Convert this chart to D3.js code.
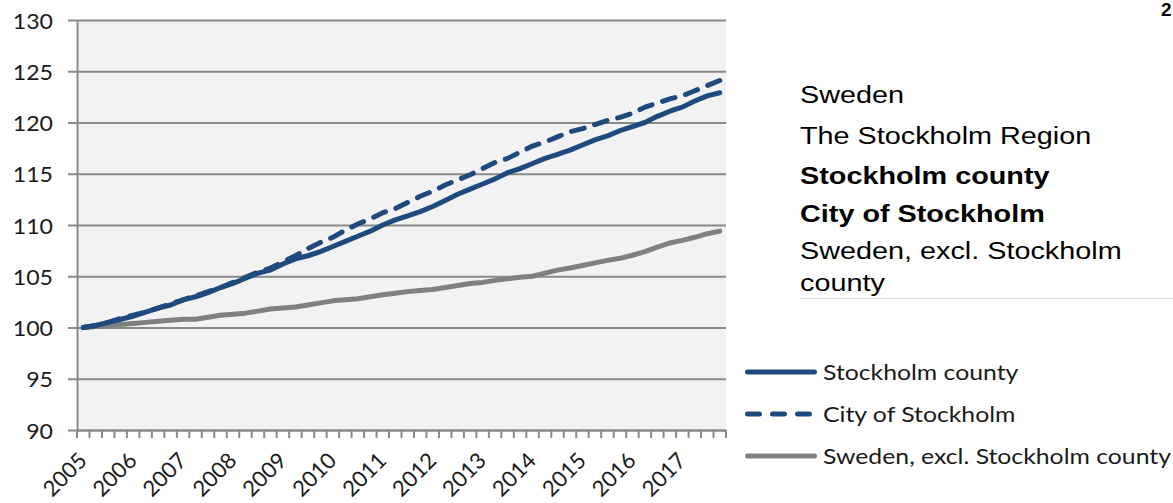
<!DOCTYPE html>
<html>
<head>
<meta charset="utf-8">
<script src="https://cdn.jsdelivr.net/npm/d3@7"></script>
<style>
  html, body { margin: 0; padding: 0; background: #ffffff; }
  svg { display: block; }
</style>
</head>
<body>
<svg id="chart" width="1173" height="503"></svg>
<script>
// Quarterly index, 2005 Q1 = 100
const years = [2005, 2006, 2007, 2008, 2009, 2010, 2011, 2012, 2013, 2014, 2015, 2016, 2017];
const quarters = years.flatMap(y => ["Q1", "Q2", "Q3", "Q4"].map(q => `${y}${q}`));

const stockholmCounty = [
  100.0, 100.2, 100.5, 100.8, 101.1, 101.5, 101.9, 102.2,
  102.7, 103.0, 103.4, 103.9, 104.3, 104.8, 105.3, 105.6,
  106.2, 106.7, 107.0, 107.4, 107.9, 108.4, 108.9, 109.4,
  110.0, 110.5, 110.9, 111.3, 111.8, 112.4, 113.0, 113.5,
  114.0, 114.5, 115.1, 115.5, 116.0, 116.5, 116.9, 117.3,
  117.8, 118.3, 118.7, 119.2, 119.6, 120.0, 120.6, 121.1,
  121.5, 122.1, 122.6, 122.9
];
const cityOfStockholm = [
  100.0, 100.2, 100.5, 100.9, 101.2, 101.5, 101.9, 102.3,
  102.7, 103.1, 103.5, 103.9, 104.4, 104.9, 105.4, 105.8,
  106.4, 107.0, 107.7, 108.3, 108.8, 109.5, 110.1, 110.6,
  111.2, 111.6, 112.2, 112.8, 113.3, 113.9, 114.4, 114.9,
  115.5, 116.1, 116.5, 117.1, 117.7, 118.1, 118.6, 119.1,
  119.4, 119.8, 120.2, 120.5, 120.9, 121.5, 121.9, 122.3,
  122.6, 123.1, 123.6, 124.1
];
const swedenExclCounty = [
  100.0, 100.1, 100.2, 100.3, 100.4, 100.5, 100.6, 100.7,
  100.8, 100.8, 101.0, 101.2, 101.3, 101.4, 101.6, 101.8,
  101.9, 102.0, 102.2, 102.4, 102.6, 102.7, 102.8, 103.0,
  103.2, 103.35, 103.5, 103.6, 103.7, 103.9, 104.1, 104.3,
  104.4, 104.6, 104.75, 104.9, 105.0, 105.3, 105.6, 105.8,
  106.05, 106.3, 106.55, 106.75, 107.05, 107.4, 107.85, 108.25,
  108.5, 108.8, 109.15, 109.4
];

const yTicks = [90, 95, 100, 105, 110, 115, 120, 125, 130];
const yearLabels = years.map(String);

const seriesNames = ["Stockholm county", "City of Stockholm", "Sweden, excl. Stockholm county"];
const seriesColors = ["#1f4a7e", "#1f4a7e", "#808080"];
const seriesDashes = [null, "13,11", null];
const legendDashes = [null, "12,13", null];

const noteLines = ["Sweden", "The Stockholm Region", "Stockholm county", "City of Stockholm", "Sweden, excl. Stockholm", "county"];
const noteBold = [false, false, true, true, false, false];

// Layout
const plot = { left: 77, right: 726, top: 20, bottom: 430 };
const calibriLike = "Lato, 'Open Sans', sans-serif";
const arialLike = "'Liberation Sans', Arial, sans-serif";

const svg = d3.select("#chart");

const x = d3.scaleBand().domain(quarters).range([plot.left, plot.right]).paddingInner(0).paddingOuter(0);
const y = d3.scaleLinear().domain([90, 130]).range([plot.bottom, plot.top]);
const cx = q => x(q) + x.bandwidth() / 2;

// Plot area background
svg.append("rect")
  .attr("x", plot.left).attr("y", plot.top)
  .attr("width", plot.right - plot.left).attr("height", plot.bottom - plot.top)
  .attr("fill", "#f2f2f2");

// Horizontal gridlines + value axis
const yAxis = svg.append("g")
  .attr("transform", `translate(${plot.left},0)`)
  .call(d3.axisLeft(y).tickValues(yTicks).tickSizeInner(-(plot.right - plot.left)).tickSizeOuter(0).tickFormat(d3.format("d")));
yAxis.select(".domain").attr("stroke", "#8a8a8a").attr("stroke-width", 2);
yAxis.selectAll(".tick line")
  .attr("x1", -9)
  .attr("stroke", "#8a8a8a").attr("stroke-width", 2);
yAxis.selectAll(".tick text")
  .attr("x", null).attr("dy", null)
  .attr("text-anchor", "end")
  .attr("dominant-baseline", "central")
  .attr("transform", "translate(-24,0) scale(1.1,1)")
  .attr("font-family", calibriLike)
  .attr("font-size", 21)
  .attr("fill", "#1a1a1a");

// Category axis with quarterly tick marks between categories
const xAxis = svg.append("g")
  .attr("transform", `translate(0,${plot.bottom})`)
  .call(d3.axisBottom(x).tickSizeOuter(0).tickFormat(""));
xAxis.select(".domain").attr("stroke", "#8a8a8a").attr("stroke-width", 2);
xAxis.selectAll(".tick").remove();
const boundaries = quarters.map(q => x(q)).concat([plot.right]);
xAxis.selectAll("line.qtick")
  .data(boundaries)
  .join("line")
  .attr("class", "qtick")
  .attr("x1", d => d).attr("x2", d => d)
  .attr("y1", 0).attr("y2", 8)
  .attr("stroke", "#8a8a8a").attr("stroke-width", 2);

// Year labels, rotated
svg.append("g").selectAll("text")
  .data(years)
  .join("text")
  .attr("text-anchor", "end")
  .attr("transform", d => `translate(${cx(d + "Q1") + 5},462) rotate(-45)`)
  .attr("font-family", calibriLike)
  .attr("font-size", 22)
  .attr("fill", "#1a1a1a")
  .text((d, i) => yearLabels[i]);

// Lines
const seriesData = [stockholmCounty, cityOfStockholm, swedenExclCounty];
const line = d3.line()
  .x((d, i) => cx(quarters[i]))
  .y(d => y(d))
  .curve(d3.curveLinear);

const drawOrder = [2, 0, 1];
svg.append("g").selectAll("path")
  .data(drawOrder)
  .join("path")
  .attr("d", k => line(seriesData[k]))
  .attr("fill", "none")
  .attr("stroke", k => seriesColors[k])
  .attr("stroke-width", 5)
  .attr("stroke-linecap", "round")
  .attr("stroke-linejoin", "round")
  .attr("stroke-dasharray", k => seriesDashes[k]);

// Legend
const legendY = [372, 414, 456];
const legend = svg.append("g");
legend.selectAll("line")
  .data(seriesNames)
  .join("line")
  .attr("x1", 747.5).attr("x2", 814.5)
  .attr("y1", (d, i) => legendY[i]).attr("y2", (d, i) => legendY[i])
  .attr("stroke", (d, i) => seriesColors[i])
  .attr("stroke-width", 5)
  .attr("stroke-linecap", "round")
  .attr("stroke-dasharray", (d, i) => legendDashes[i]);
legend.selectAll("text")
  .data(seriesNames)
  .join("text")
  .attr("transform", (d, i) => `translate(823,${legendY[i] + 8}) scale(1.18,1)`)
  .attr("font-family", calibriLike)
  .attr("font-size", 21)
  .attr("fill", "#1a1a1a")
  .text(d => d);

// Region notes on the right
const noteBaselines = [103, 144, 184, 222, 259, 291];
svg.append("g").selectAll("text")
  .data(noteLines)
  .join("text")
  .attr("transform", (d, i) => `translate(800,${noteBaselines[i]}) scale(1.2,1)`)
  .attr("font-family", arialLike)
  .attr("font-size", 24)
  .attr("font-weight", (d, i) => noteBold[i] ? "bold" : "normal")
  .attr("fill", "#000000")
  .text(d => d);

svg.append("line")
  .attr("x1", 800).attr("x2", 1173)
  .attr("y1", 298.5).attr("y2", 298.5)
  .attr("stroke", "#dcdcdc").attr("stroke-width", 1);

// Page number in the top-right corner
svg.append("text")
  .attr("x", 1161).attr("y", 16)
  .attr("font-family", arialLike)
  .attr("font-size", 19)
  .attr("font-weight", "bold")
  .attr("fill", "#000000")
  .text("2");
</script>
</body>
</html>
